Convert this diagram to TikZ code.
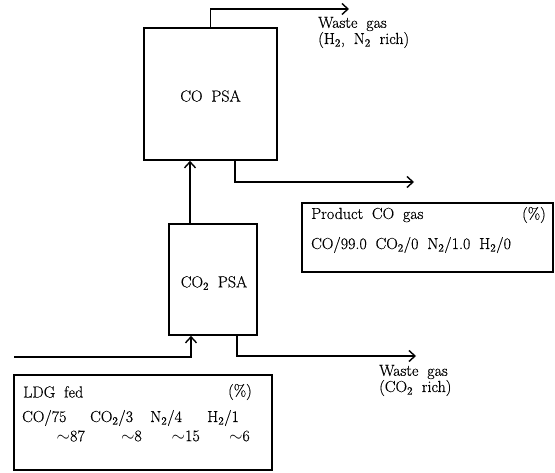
\documentclass[tikz,border=0pt]{standalone}
\usepackage{fontspec}
\setmainfont{Latin Modern Roman}[FakeBold=0.4]
\usetikzlibrary{arrows.meta}
\newcommand{\diagfont}{\fontsize{16}{18}\selectfont\spaceskip=0.55em\relax}
\tikzset{
  txt/.style={font=\diagfont, inner sep=0pt, anchor=west},
  unit/.style={draw, line width=1.6pt, inner sep=0pt},
  flow/.style={line width=1.6pt, -{Straight Barb[length=6pt,width=11pt,line width=1.4pt]}},
}
\newcommand{\sub}[1]{\textsubscript{#1}}
\begin{document}
\begin{tikzpicture}[x=1pt,y=-1pt]
\useasboundingbox (0,0) rectangle (555,473);
% units
\node[unit, minimum width=133pt, minimum height=132pt] (copsa) at (210.5,94) {};
\node[txt, anchor=center] (copsalab) at (210.5,96) {CO PSA};
\node[unit, minimum width=88pt, minimum height=111pt] (co2psa) at (213,279.5) {};
\node[txt, anchor=center] (co2psalab) at (214,283) {CO\sub{2} PSA};
% boxes
\node[unit, minimum width=251pt, minimum height=69pt] (product) at (427.5,237.5) {};
\node[txt] (prodtitle) at (311,215) {Product CO gas};
\node[txt, anchor=east] (prodpct) at (546,215) {(\%)};
\node[txt] (prodcomp) at (311,245) {CO/99.0 CO\sub{2}/0 N\sub{2}/1.0 H\sub{2}/0};
\node[unit, minimum width=258pt, minimum height=95pt] (ldg) at (143,422.5) {};
\node[txt] (ldgtitle) at (23,392) {LDG fed};
\node[txt, anchor=east] (ldgpct) at (252,392) {(\%)};
\node[txt] (c1) at (22,418) {CO/75};
\node[txt, anchor=east] (c1b) at (85,436) {$\sim$87};
\node[txt] (c2) at (90,418) {CO\sub{2}/3};
\node[txt, anchor=east] (c2b) at (142,436) {$\sim$8};
\node[txt] (c3) at (150,418) {N\sub{2}/4};
\node[txt, anchor=east] (c3b) at (200,436) {$\sim$15};
\node[txt] (c4) at (207,418) {H\sub{2}/1};
\node[txt, anchor=east] (c4b) at (250,436) {$\sim$6};
% labels
\node[txt] (wtoplab1) at (318,24) {Waste gas};
\node[txt] (wtoplab2) at (318,40) {(H\sub{2}, N\sub{2} rich)};
\node[txt] (wbotlab1) at (379,372) {Waste gas};
\node[txt] (wbotlab2) at (379,388) {(CO\sub{2} rich)};
% connector ends
\coordinate (wtop) at (349,9);
\coordinate (prodout) at (414,182);
\coordinate (feedin) at (14,357);
\coordinate (wbot) at (416,356);
% connectors
\draw[flow] (copsa.north) |- (wtop);
\draw[flow] (copsa.south -| 235,0) |- (prodout);
\draw[flow] (co2psa.north -| 190,0) -- (copsa.south -| 190,0);
\draw[flow] (feedin) -| (co2psa.south -| 191,0);
\draw[flow] (co2psa.south -| 237,0) |- (wbot);
\end{tikzpicture}
\end{document}
